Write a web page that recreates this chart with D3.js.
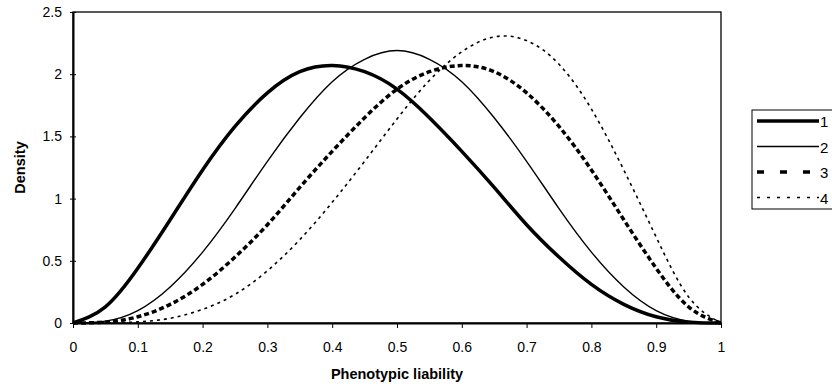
<!DOCTYPE html>
<html>
<head>
<meta charset="utf-8">
<script src="https://cdn.jsdelivr.net/npm/d3@7"></script>
<style>
  body { margin: 0; background: #fff; }
  text { font-family: "Liberation Sans", Arial, sans-serif; }
</style>
</head>
<body>
<div id="chart"></div>
<script>
// liability values along x
const liability = [0, 0.05, 0.1, 0.15, 0.2, 0.25, 0.3, 0.35, 0.4, 0.45, 0.5,
  0.55, 0.6, 0.65, 0.7, 0.75, 0.8, 0.85, 0.9, 0.95, 1];

// densities
const series1 = [0, 0.13, 0.44, 0.83, 1.23, 1.58, 1.85, 2.02, 2.07, 2.02, 1.88,
  1.65, 1.38, 1.09, 0.79, 0.53, 0.31, 0.15, 0.05, 0.007, 0];
const series2 = [0, 0.015, 0.10, 0.29, 0.57, 0.92, 1.30, 1.65, 1.94, 2.12, 2.19,
  2.12, 1.94, 1.65, 1.30, 0.92, 0.57, 0.29, 0.10, 0.015, 0];
const series3 = [0, 0.007, 0.05, 0.15, 0.31, 0.53, 0.79, 1.09, 1.38, 1.65, 1.88,
  2.02, 2.07, 2.02, 1.85, 1.58, 1.23, 0.83, 0.44, 0.13, 0];
const series4 = [0, 0.001, 0.009, 0.038, 0.11, 0.23, 0.42, 0.67, 0.97, 1.30, 1.64,
  1.95, 2.18, 2.30, 2.27, 2.08, 1.72, 1.23, 0.69, 0.21, 0];

const seriesNames = ["1", "2", "3", "4"];
const xTicks = [0, 0.1, 0.2, 0.3, 0.4, 0.5, 0.6, 0.7, 0.8, 0.9, 1];
const yTicks = [0, 0.5, 1, 1.5, 2, 2.5];

// line look: plot dash vs legend dash (Excel spaces them differently)
const styles = [
  { width: 3.5, dash: null, legendDash: null },
  { width: 1.4, dash: null, legendDash: null },
  { width: 3.5, dash: "5,3", legendDash: "7,16" },
  { width: 1.6, dash: "3,4", legendDash: "3,7" }
];

const W = 832, H = 390;
const margin = { top: 12, right: 111, bottom: 67, left: 73 };
const width = W - margin.left - margin.right;
const height = H - margin.top - margin.bottom;

const svg = d3.select("#chart").append("svg")
  .attr("width", W).attr("height", H);

const g = svg.append("g")
  .attr("transform", `translate(${margin.left},${margin.top})`);

const x = d3.scaleLinear().domain([0, 1]).range([0, width]);
const y = d3.scaleLinear().domain([0, 2.5]).range([height, 0]);

// plot frame (top/right)
g.append("rect")
  .attr("x", 0).attr("y", 0)
  .attr("width", width).attr("height", height)
  .attr("fill", "none").attr("stroke", "#000").attr("stroke-width", 1.3);

const xAxis = d3.axisBottom(x).tickValues(xTicks)
  .tickFormat(d3.format("")).tickSize(5).tickSizeOuter(0);
const yAxis = d3.axisLeft(y).tickValues(yTicks)
  .tickFormat(d3.format("")).tickSize(3).tickSizeOuter(0);

const gx = g.append("g").attr("transform", `translate(0,${height})`).call(xAxis);
gx.select(".domain").attr("stroke-width", 2);
gx.selectAll("text").attr("font-size", 14).attr("dy", "1.5em").attr("fill", "#000");

const gy = g.append("g").call(yAxis);
gy.select(".domain").attr("stroke-width", 2);
gy.selectAll(".tick line").attr("x2", 3).attr("x1", -3);
gy.selectAll("text").attr("font-size", 14).attr("x", -11).attr("fill", "#000");

const allSeries = [series1, series2, series3, series4];
const line = d3.line()
  .x((d, i) => x(liability[i]))
  .y(d => y(d))
  .curve(d3.curveNatural);

allSeries.forEach((s, k) => {
  g.append("path")
    .datum(s)
    .attr("d", line)
    .attr("fill", "none")
    .attr("stroke", "#000")
    .attr("stroke-width", styles[k].width)
    .attr("stroke-dasharray", styles[k].dash);
});

// axis titles
svg.append("text")
  .attr("x", margin.left + width / 2).attr("y", 379)
  .attr("text-anchor", "middle").attr("font-size", 14.5).attr("font-weight", "bold")
  .text("Phenotypic liability");

svg.append("text")
  .attr("transform", `translate(25,${margin.top + height / 2}) rotate(-90)`)
  .attr("text-anchor", "middle").attr("font-size", 14.5).attr("font-weight", "bold")
  .text("Density");

// legend
const legend = svg.append("g").attr("transform", "translate(752,110)");
legend.append("rect")
  .attr("x", 0).attr("y", 0).attr("width", 90).attr("height", 99)
  .attr("fill", "#fff").attr("stroke", "#000").attr("stroke-width", 1);

seriesNames.forEach((name, k) => {
  const yy = 11 + k * 25.5;
  legend.append("line")
    .attr("x1", 5).attr("x2", 67).attr("y1", yy).attr("y2", yy)
    .attr("stroke", "#000")
    .attr("stroke-width", styles[k].width)
    .attr("stroke-dasharray", styles[k].legendDash);
  legend.append("text")
    .attr("x", 68).attr("y", yy + 6)
    .attr("font-size", 15).text(name);
});
</script>
</body>
</html>
